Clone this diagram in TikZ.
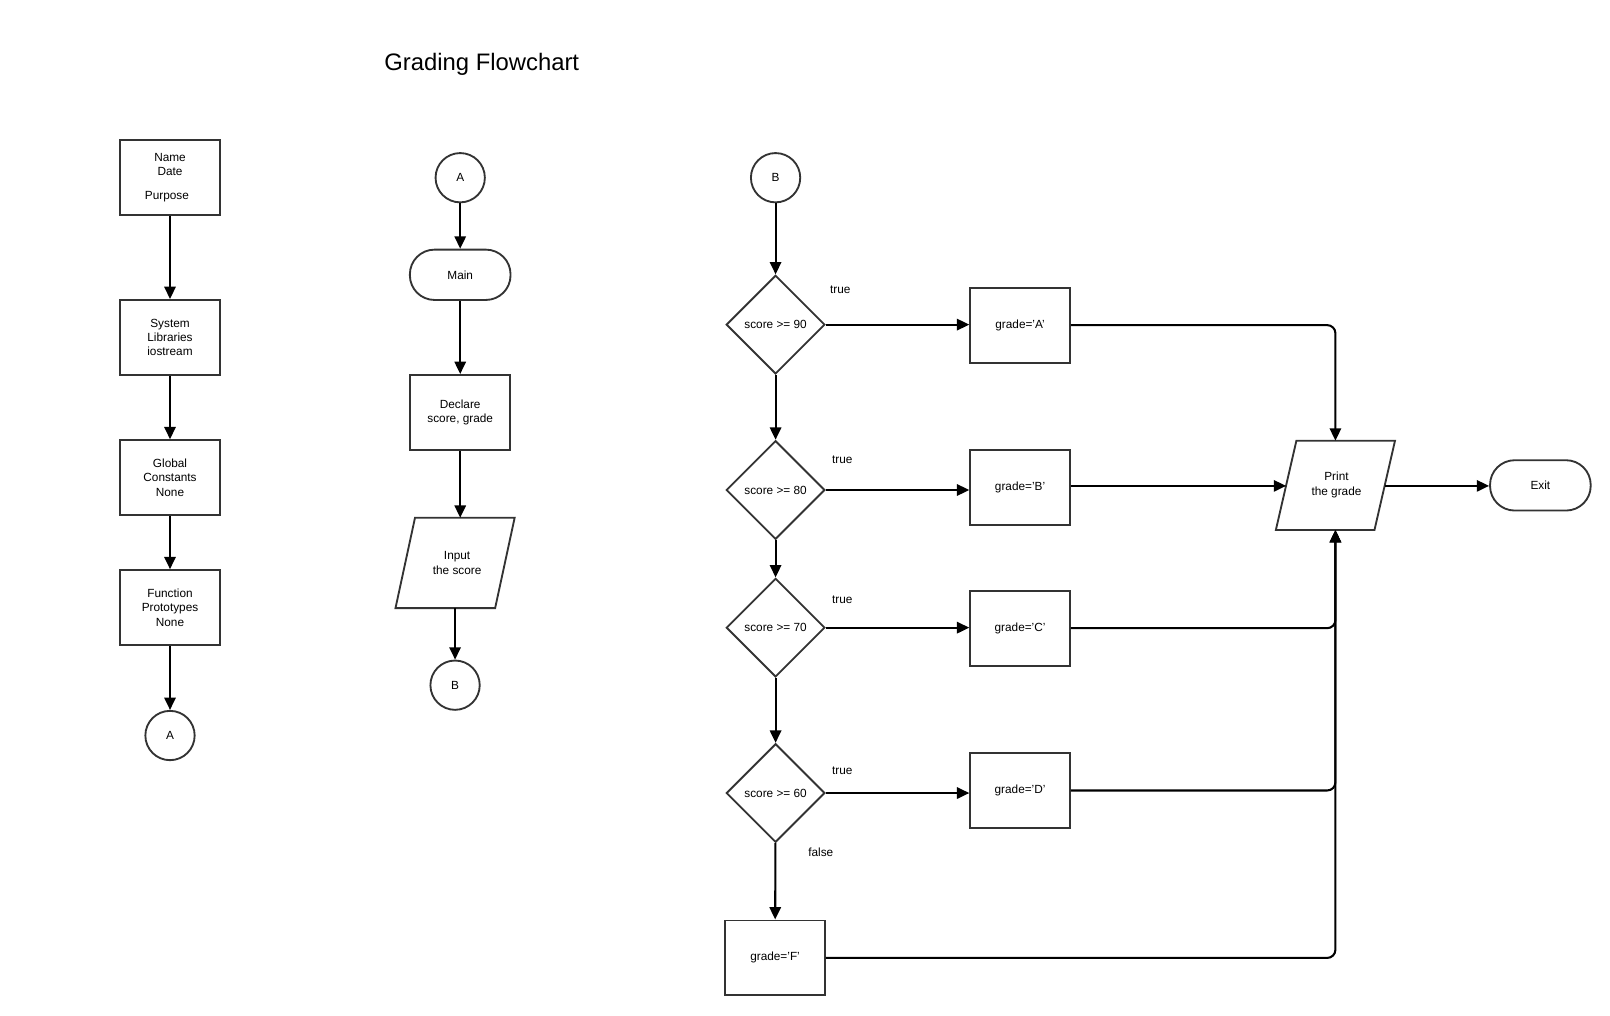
\documentclass[tikz,border=0pt]{standalone}
\usepackage{fontspec}
\setmainfont{Liberation Sans}
\usetikzlibrary{shapes.geometric,arrows.meta}
\definecolor{shapecol}{HTML}{333333}
\newcommand{\fs}{\fontsize{11.5}{14}\selectfont}
\begin{document}
\begin{tikzpicture}[x=1pt,y=-1pt,
  every node/.style={font=\fs},
  box/.style={draw=shapecol, line width=1.8pt, minimum width=97pt, minimum height=73pt, inner sep=0pt, align=center},
  term/.style={draw=shapecol, line width=1.8pt, rounded corners=24pt, minimum width=98pt, minimum height=49pt, inner sep=0pt},
  conn/.style={circle, draw=shapecol, line width=1.8pt, minimum size=48pt, inner sep=0pt},
  dec/.style={diamond, draw=shapecol, line width=1.8pt, minimum width=96pt, minimum height=96pt, inner sep=0pt},
  para/.style={draw=shapecol, line width=1.8pt},
  txt/.style={align=center, inner sep=0pt},
  arr/.style={draw=black, line width=2pt, -{Triangle[length=12pt,width=11pt]}},
  elbow/.style={arr, rounded corners=8pt}]
\useasboundingbox (0,0) rectangle (1567.3,988.1);
\fill[white] (0,0) rectangle (1567.3,988.1);

\node[inner sep=0pt, font=\fontsize{23.2}{27}\selectfont] (title) at (469,62.5) {Grading Flowchart};

% column 1
\node[box] (name) at (165.5,172.5) {Name\\Date\\[9pt]\hspace*{-6pt}Purpose};
\node[box] (sys) at (165.5,328.5) {System\\Libraries\\iostream};
\node[box] (glob) at (165.5,465) {Global\\Constants\\None};
\node[box] (func) at (165.5,591.5) {Function\\Prototypes\\None};
\node[conn] (a1) at (165.5,716) {A};
\draw[arr] (name) -- (sys);
\draw[arr] (sys) -- (glob);
\draw[arr] (glob) -- (func);
\draw[arr] (func) -- (a1);

% column 2
\node[conn] (a2) at (448,173) {A};
\node[term] (main) at (448,267.5) {Main};
\node[box] (decl) at (448,401.5) {Declare\\score, grade};
\draw[para] (404,504) -- (501,504) -- (482,592) -- (385,592) -- cycle;
\node[txt] (inp) at (445,548) {Input\\the score};
\coordinate (intop) at (448,504);
\coordinate (inbot) at (443,592);
\node[conn] (b2) at (443,667) {B};
\draw[arr] (a2) -- (main);
\draw[arr] (main) -- (decl);
\draw[arr] (decl.south) -- (intop);
\draw[arr] (inbot) -- (b2.north);

% column 3
\node[conn] (b3) at (755,173) {B};
\node[dec] (d1) at (755,316) {score >= 90};
\node[dec] (d2) at (755,477) {score >= 80};
\node[dec] (d3) at (755,611) {score >= 70};
\node[dec] (d4) at (755,772) {score >= 60};
\node[box] (gf) at (754.5,932.5) {grade='F'};
\node[box] (ga) at (993,316.5) {grade='A'};
\node[box] (gb) at (993,474.5) {grade='B'};
\node[box] (gc) at (993,611.5) {grade='C'};
\node[box] (gd) at (993,769.5) {grade='D'};

\node[inner sep=0pt] (t1) at (818,282) {true};
\node[inner sep=0pt] (t2) at (820,448) {true};
\node[inner sep=0pt] (t3) at (820,584) {true};
\node[inner sep=0pt] (t4) at (820,750) {true};
\node[inner sep=0pt] (f4) at (799,830) {false};

\draw[arr] (b3) -- (d1);
\draw[arr] (d1) -- (d2);
\draw[arr] (d2) -- (d3);
\draw[arr] (d3) -- (d4);
\draw[arr] (d4) -- (gf);
\draw[arr] (d1.east) -- (ga.west |- d1.east);
\draw[arr] (d2.east) -- (gb.west |- d2.east);
\draw[arr] (d3.east) -- (gc.west |- d3.east);
\draw[arr] (d4.east) -- (gd.west |- d4.east);

% print
\draw[para] (1262,429) -- (1358,429) -- (1338,516) -- (1242,516) -- cycle;
\node[txt] (pr) at (1301,472) {Print\\the grade};
\coordinate (prtop) at (1300,429);
\coordinate (prbot) at (1300,516);
\coordinate (prleft) at (1252,473);
\coordinate (prright) at (1348,473);
\node[term] (exit) at (1499.5,472.5) {Exit};

\draw[elbow] (ga.east) -| (prtop);
\draw[arr] (gb.east |- prleft) -- (prleft);
\draw[elbow] (gc.east) -| (prbot);
\draw[elbow] (gd.east) -| (prbot);
\draw[elbow] (gf.east) -| (prbot);
\draw[arr] (prright) -- (exit.west |- prright);
\end{tikzpicture}
\end{document}
